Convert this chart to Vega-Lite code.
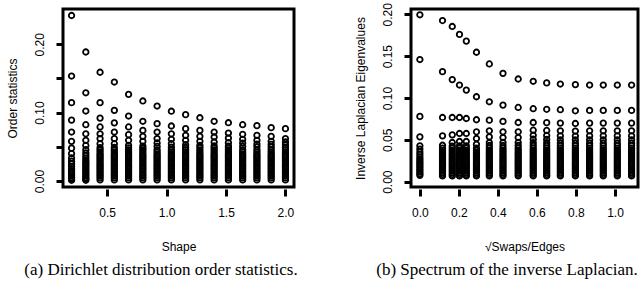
{
"$schema":"https://vega.github.io/schema/vega-lite/v6.json",
"padding":{"left":4,"top":1,"right":0,"bottom":0},
"spacing":6,
"config":{
"view":{"stroke":"#000000","strokeWidth":3},
"axis":{"domain":false,"grid":false,"ticks":true,"tickColor":"#000000","tickSize":7,"tickWidth":3,"labelFont":"Liberation Sans","labelFontSize":12,"labelColor":"black","titleFont":"Liberation Sans","titleFontSize":12,"titleFontWeight":"normal","titleColor":"black","labelPadding":10},
"axisY":{"labelAngle":270,"labelAlign":"center","labelBaseline":"bottom","titlePadding":14},
"axisX":{"offset":2,"titlePadding":23,"labelPadding":11},
"point":{"shape":"circle","filled":false,"stroke":"black","strokeWidth":1.8,"size":30,"opacity":1},
"text":{"font":"Liberation Serif","fontSize":17,"color":"black","align":"center","baseline":"middle"}
},
"datasets":{
"a":[
{"x":0.2,"y":0.242},{"x":0.2,"y":0.1535},{"x":0.2,"y":0.1145},{"x":0.2,"y":0.089},{"x":0.2,"y":0.0716},{"x":0.2,"y":0.058},{"x":0.2,"y":0.048},{"x":0.2,"y":0.04},{"x":0.2,"y":0.0336},{"x":0.2,"y":0.029},{"x":0.2,"y":0.025},{"x":0.2,"y":0.0215},{"x":0.2,"y":0.018},{"x":0.2,"y":0.015},{"x":0.2,"y":0.0125},{"x":0.2,"y":0.01},{"x":0.2,"y":0.0075},{"x":0.2,"y":0.005},{"x":0.2,"y":0.003},{"x":0.2,"y":0.001},
{"x":0.32,"y":0.1886},{"x":0.32,"y":0.129},{"x":0.32,"y":0.1023},{"x":0.32,"y":0.0823},{"x":0.32,"y":0.069},{"x":0.32,"y":0.0595},{"x":0.32,"y":0.052},{"x":0.32,"y":0.0458},{"x":0.32,"y":0.041},{"x":0.32,"y":0.037},{"x":0.32,"y":0.0335},{"x":0.32,"y":0.0305},{"x":0.32,"y":0.0275},{"x":0.32,"y":0.025},{"x":0.32,"y":0.0225},{"x":0.32,"y":0.02},{"x":0.32,"y":0.0175},{"x":0.32,"y":0.015},{"x":0.32,"y":0.0125},{"x":0.32,"y":0.01},{"x":0.32,"y":0.0075},{"x":0.32,"y":0.005},{"x":0.32,"y":0.003},{"x":0.32,"y":0.001},
{"x":0.44,"y":0.159},{"x":0.44,"y":0.1145},{"x":0.44,"y":0.092},{"x":0.44,"y":0.079},{"x":0.44,"y":0.069},{"x":0.44,"y":0.062},{"x":0.44,"y":0.0545},{"x":0.44,"y":0.0487},{"x":0.44,"y":0.0455},{"x":0.44,"y":0.0425},{"x":0.44,"y":0.0395},{"x":0.44,"y":0.037},{"x":0.44,"y":0.0345},{"x":0.44,"y":0.032},{"x":0.44,"y":0.0295},{"x":0.44,"y":0.027},{"x":0.44,"y":0.0245},{"x":0.44,"y":0.022},{"x":0.44,"y":0.0195},{"x":0.44,"y":0.017},{"x":0.44,"y":0.0145},{"x":0.44,"y":0.012},{"x":0.44,"y":0.0095},{"x":0.44,"y":0.007},{"x":0.44,"y":0.0045},{"x":0.44,"y":0.0015},
{"x":0.56,"y":0.1447},{"x":0.56,"y":0.1033},{"x":0.56,"y":0.085},{"x":0.56,"y":0.0716},{"x":0.56,"y":0.062},{"x":0.56,"y":0.0545},{"x":0.56,"y":0.049},{"x":0.56,"y":0.0455},{"x":0.56,"y":0.0425},{"x":0.56,"y":0.0395},{"x":0.56,"y":0.037},{"x":0.56,"y":0.0345},{"x":0.56,"y":0.032},{"x":0.56,"y":0.0295},{"x":0.56,"y":0.027},{"x":0.56,"y":0.0245},{"x":0.56,"y":0.022},{"x":0.56,"y":0.0195},{"x":0.56,"y":0.017},{"x":0.56,"y":0.0145},{"x":0.56,"y":0.012},{"x":0.56,"y":0.0095},{"x":0.56,"y":0.007},{"x":0.56,"y":0.0045},{"x":0.56,"y":0.0015},
{"x":0.68,"y":0.1267},{"x":0.68,"y":0.095},{"x":0.68,"y":0.079},{"x":0.68,"y":0.0677},{"x":0.68,"y":0.0595},{"x":0.68,"y":0.052},{"x":0.68,"y":0.0485},{"x":0.68,"y":0.0455},{"x":0.68,"y":0.0425},{"x":0.68,"y":0.0395},{"x":0.68,"y":0.037},{"x":0.68,"y":0.0345},{"x":0.68,"y":0.032},{"x":0.68,"y":0.0295},{"x":0.68,"y":0.027},{"x":0.68,"y":0.0245},{"x":0.68,"y":0.022},{"x":0.68,"y":0.0195},{"x":0.68,"y":0.017},{"x":0.68,"y":0.0145},{"x":0.68,"y":0.012},{"x":0.68,"y":0.0095},{"x":0.68,"y":0.007},{"x":0.68,"y":0.0045},{"x":0.68,"y":0.0015},
{"x":0.8,"y":0.117},{"x":0.8,"y":0.0873},{"x":0.8,"y":0.074},{"x":0.8,"y":0.0653},{"x":0.8,"y":0.058},{"x":0.8,"y":0.051},{"x":0.8,"y":0.048},{"x":0.8,"y":0.0455},{"x":0.8,"y":0.0425},{"x":0.8,"y":0.0395},{"x":0.8,"y":0.037},{"x":0.8,"y":0.0345},{"x":0.8,"y":0.032},{"x":0.8,"y":0.0295},{"x":0.8,"y":0.027},{"x":0.8,"y":0.0245},{"x":0.8,"y":0.022},{"x":0.8,"y":0.0195},{"x":0.8,"y":0.017},{"x":0.8,"y":0.0145},{"x":0.8,"y":0.012},{"x":0.8,"y":0.0095},{"x":0.8,"y":0.007},{"x":0.8,"y":0.0045},{"x":0.8,"y":0.0015},
{"x":0.92,"y":0.1096},{"x":0.92,"y":0.0838},{"x":0.92,"y":0.0716},{"x":0.92,"y":0.062},{"x":0.92,"y":0.0556},{"x":0.92,"y":0.0505},{"x":0.92,"y":0.0455},{"x":0.92,"y":0.0425},{"x":0.92,"y":0.0395},{"x":0.92,"y":0.037},{"x":0.92,"y":0.0345},{"x":0.92,"y":0.032},{"x":0.92,"y":0.0295},{"x":0.92,"y":0.027},{"x":0.92,"y":0.0245},{"x":0.92,"y":0.022},{"x":0.92,"y":0.0195},{"x":0.92,"y":0.017},{"x":0.92,"y":0.0145},{"x":0.92,"y":0.012},{"x":0.92,"y":0.0095},{"x":0.92,"y":0.007},{"x":0.92,"y":0.0045},{"x":0.92,"y":0.0015},
{"x":1.04,"y":0.102},{"x":1.04,"y":0.0804},{"x":1.04,"y":0.069},{"x":1.04,"y":0.061},{"x":1.04,"y":0.0545},{"x":1.04,"y":0.0495},{"x":1.04,"y":0.0455},{"x":1.04,"y":0.0425},{"x":1.04,"y":0.0395},{"x":1.04,"y":0.037},{"x":1.04,"y":0.0345},{"x":1.04,"y":0.032},{"x":1.04,"y":0.0295},{"x":1.04,"y":0.027},{"x":1.04,"y":0.0245},{"x":1.04,"y":0.022},{"x":1.04,"y":0.0195},{"x":1.04,"y":0.017},{"x":1.04,"y":0.0145},{"x":1.04,"y":0.012},{"x":1.04,"y":0.0095},{"x":1.04,"y":0.007},{"x":1.04,"y":0.0045},{"x":1.04,"y":0.0015},
{"x":1.16,"y":0.097},{"x":1.16,"y":0.0765},{"x":1.16,"y":0.0668},{"x":1.16,"y":0.0595},{"x":1.16,"y":0.053},{"x":1.16,"y":0.049},{"x":1.16,"y":0.0455},{"x":1.16,"y":0.0425},{"x":1.16,"y":0.0395},{"x":1.16,"y":0.037},{"x":1.16,"y":0.0345},{"x":1.16,"y":0.032},{"x":1.16,"y":0.0295},{"x":1.16,"y":0.027},{"x":1.16,"y":0.0245},{"x":1.16,"y":0.022},{"x":1.16,"y":0.0195},{"x":1.16,"y":0.017},{"x":1.16,"y":0.0145},{"x":1.16,"y":0.012},{"x":1.16,"y":0.0095},{"x":1.16,"y":0.007},{"x":1.16,"y":0.0045},{"x":1.16,"y":0.0015},
{"x":1.28,"y":0.0925},{"x":1.28,"y":0.074},{"x":1.28,"y":0.0653},{"x":1.28,"y":0.058},{"x":1.28,"y":0.052},{"x":1.28,"y":0.049},{"x":1.28,"y":0.0455},{"x":1.28,"y":0.0425},{"x":1.28,"y":0.0395},{"x":1.28,"y":0.037},{"x":1.28,"y":0.0345},{"x":1.28,"y":0.032},{"x":1.28,"y":0.0295},{"x":1.28,"y":0.027},{"x":1.28,"y":0.0245},{"x":1.28,"y":0.022},{"x":1.28,"y":0.0195},{"x":1.28,"y":0.017},{"x":1.28,"y":0.0145},{"x":1.28,"y":0.012},{"x":1.28,"y":0.0095},{"x":1.28,"y":0.007},{"x":1.28,"y":0.0045},{"x":1.28,"y":0.0015},
{"x":1.4,"y":0.0873},{"x":1.4,"y":0.0716},{"x":1.4,"y":0.0643},{"x":1.4,"y":0.057},{"x":1.4,"y":0.0515},{"x":1.4,"y":0.0485},{"x":1.4,"y":0.0455},{"x":1.4,"y":0.0425},{"x":1.4,"y":0.0395},{"x":1.4,"y":0.037},{"x":1.4,"y":0.0345},{"x":1.4,"y":0.032},{"x":1.4,"y":0.0295},{"x":1.4,"y":0.027},{"x":1.4,"y":0.0245},{"x":1.4,"y":0.022},{"x":1.4,"y":0.0195},{"x":1.4,"y":0.017},{"x":1.4,"y":0.0145},{"x":1.4,"y":0.012},{"x":1.4,"y":0.0095},{"x":1.4,"y":0.007},{"x":1.4,"y":0.0045},{"x":1.4,"y":0.0015},
{"x":1.52,"y":0.0852},{"x":1.52,"y":0.07},{"x":1.52,"y":0.0629},{"x":1.52,"y":0.056},{"x":1.52,"y":0.051},{"x":1.52,"y":0.0485},{"x":1.52,"y":0.0455},{"x":1.52,"y":0.0425},{"x":1.52,"y":0.0395},{"x":1.52,"y":0.037},{"x":1.52,"y":0.0345},{"x":1.52,"y":0.032},{"x":1.52,"y":0.0295},{"x":1.52,"y":0.027},{"x":1.52,"y":0.0245},{"x":1.52,"y":0.022},{"x":1.52,"y":0.0195},{"x":1.52,"y":0.017},{"x":1.52,"y":0.0145},{"x":1.52,"y":0.012},{"x":1.52,"y":0.0095},{"x":1.52,"y":0.007},{"x":1.52,"y":0.0045},{"x":1.52,"y":0.0015},
{"x":1.64,"y":0.0823},{"x":1.64,"y":0.0683},{"x":1.64,"y":0.061},{"x":1.64,"y":0.0555},{"x":1.64,"y":0.0505},{"x":1.64,"y":0.0455},{"x":1.64,"y":0.0425},{"x":1.64,"y":0.0395},{"x":1.64,"y":0.037},{"x":1.64,"y":0.0345},{"x":1.64,"y":0.032},{"x":1.64,"y":0.0295},{"x":1.64,"y":0.027},{"x":1.64,"y":0.0245},{"x":1.64,"y":0.022},{"x":1.64,"y":0.0195},{"x":1.64,"y":0.017},{"x":1.64,"y":0.0145},{"x":1.64,"y":0.012},{"x":1.64,"y":0.0095},{"x":1.64,"y":0.007},{"x":1.64,"y":0.0045},{"x":1.64,"y":0.0015},
{"x":1.76,"y":0.0809},{"x":1.76,"y":0.0668},{"x":1.76,"y":0.0595},{"x":1.76,"y":0.054},{"x":1.76,"y":0.05},{"x":1.76,"y":0.0455},{"x":1.76,"y":0.0425},{"x":1.76,"y":0.0395},{"x":1.76,"y":0.037},{"x":1.76,"y":0.0345},{"x":1.76,"y":0.032},{"x":1.76,"y":0.0295},{"x":1.76,"y":0.027},{"x":1.76,"y":0.0245},{"x":1.76,"y":0.022},{"x":1.76,"y":0.0195},{"x":1.76,"y":0.017},{"x":1.76,"y":0.0145},{"x":1.76,"y":0.012},{"x":1.76,"y":0.0095},{"x":1.76,"y":0.007},{"x":1.76,"y":0.0045},{"x":1.76,"y":0.0015},
{"x":1.88,"y":0.078},{"x":1.88,"y":0.0653},{"x":1.88,"y":0.058},{"x":1.88,"y":0.0535},{"x":1.88,"y":0.0495},{"x":1.88,"y":0.0455},{"x":1.88,"y":0.0425},{"x":1.88,"y":0.0395},{"x":1.88,"y":0.037},{"x":1.88,"y":0.0345},{"x":1.88,"y":0.032},{"x":1.88,"y":0.0295},{"x":1.88,"y":0.027},{"x":1.88,"y":0.0245},{"x":1.88,"y":0.022},{"x":1.88,"y":0.0195},{"x":1.88,"y":0.017},{"x":1.88,"y":0.0145},{"x":1.88,"y":0.012},{"x":1.88,"y":0.0095},{"x":1.88,"y":0.007},{"x":1.88,"y":0.0045},{"x":1.88,"y":0.0015},
{"x":2.0,"y":0.0765},{"x":2.0,"y":0.062},{"x":2.0,"y":0.057},{"x":2.0,"y":0.053},{"x":2.0,"y":0.049},{"x":2.0,"y":0.0455},{"x":2.0,"y":0.0425},{"x":2.0,"y":0.0395},{"x":2.0,"y":0.037},{"x":2.0,"y":0.0345},{"x":2.0,"y":0.032},{"x":2.0,"y":0.0295},{"x":2.0,"y":0.027},{"x":2.0,"y":0.0245},{"x":2.0,"y":0.022},{"x":2.0,"y":0.0195},{"x":2.0,"y":0.017},{"x":2.0,"y":0.0145},{"x":2.0,"y":0.012},{"x":2.0,"y":0.0095},{"x":2.0,"y":0.007},{"x":2.0,"y":0.0045},{"x":2.0,"y":0.0015}
],
"b":[
{"x":0,"y":0.1995},{"x":0,"y":0.146},{"x":0,"y":0.078},{"x":0,"y":0.0536},{"x":0,"y":0.0428},{"x":0,"y":0.039},{"x":0,"y":0.0355},{"x":0,"y":0.0325},{"x":0,"y":0.0295},{"x":0,"y":0.027},{"x":0,"y":0.0248},{"x":0,"y":0.0226},{"x":0,"y":0.0204},{"x":0,"y":0.0182},{"x":0,"y":0.016},{"x":0,"y":0.0138},{"x":0,"y":0.0116},{"x":0,"y":0.0094},{"x":0,"y":0.0075},
{"x":0.116,"y":0.1926},{"x":0.116,"y":0.1315},{"x":0.116,"y":0.0767},{"x":0.116,"y":0.0548},{"x":0.116,"y":0.0435},{"x":0.116,"y":0.04},{"x":0.116,"y":0.0375},{"x":0.116,"y":0.035},{"x":0.116,"y":0.0328},{"x":0.116,"y":0.0306},{"x":0.116,"y":0.0284},{"x":0.116,"y":0.0262},{"x":0.116,"y":0.024},{"x":0.116,"y":0.0218},{"x":0.116,"y":0.0196},{"x":0.116,"y":0.0174},{"x":0.116,"y":0.0152},{"x":0.116,"y":0.013},{"x":0.116,"y":0.0108},{"x":0.116,"y":0.0086},{"x":0.116,"y":0.0068},
{"x":0.166,"y":0.1855},{"x":0.166,"y":0.122},{"x":0.166,"y":0.0767},{"x":0.166,"y":0.056},{"x":0.166,"y":0.0468},{"x":0.166,"y":0.0425},{"x":0.166,"y":0.04},{"x":0.166,"y":0.0375},{"x":0.166,"y":0.035},{"x":0.166,"y":0.0328},{"x":0.166,"y":0.0306},{"x":0.166,"y":0.0284},{"x":0.166,"y":0.0262},{"x":0.166,"y":0.024},{"x":0.166,"y":0.0218},{"x":0.166,"y":0.0196},{"x":0.166,"y":0.0174},{"x":0.166,"y":0.0152},{"x":0.166,"y":0.013},{"x":0.166,"y":0.0108},{"x":0.166,"y":0.0086},{"x":0.166,"y":0.0068},
{"x":0.203,"y":0.176},{"x":0.203,"y":0.1155},{"x":0.203,"y":0.0767},{"x":0.203,"y":0.0576},{"x":0.203,"y":0.048},{"x":0.203,"y":0.0428},{"x":0.203,"y":0.04},{"x":0.203,"y":0.0375},{"x":0.203,"y":0.035},{"x":0.203,"y":0.0328},{"x":0.203,"y":0.0306},{"x":0.203,"y":0.0284},{"x":0.203,"y":0.0262},{"x":0.203,"y":0.024},{"x":0.203,"y":0.0218},{"x":0.203,"y":0.0196},{"x":0.203,"y":0.0174},{"x":0.203,"y":0.0152},{"x":0.203,"y":0.013},{"x":0.203,"y":0.0108},{"x":0.203,"y":0.0086},{"x":0.203,"y":0.0068},
{"x":0.238,"y":0.168},{"x":0.238,"y":0.1095},{"x":0.238,"y":0.0755},{"x":0.238,"y":0.0576},{"x":0.238,"y":0.048},{"x":0.238,"y":0.0428},{"x":0.238,"y":0.04},{"x":0.238,"y":0.0375},{"x":0.238,"y":0.035},{"x":0.238,"y":0.0328},{"x":0.238,"y":0.0306},{"x":0.238,"y":0.0284},{"x":0.238,"y":0.0262},{"x":0.238,"y":0.024},{"x":0.238,"y":0.0218},{"x":0.238,"y":0.0196},{"x":0.238,"y":0.0174},{"x":0.238,"y":0.0152},{"x":0.238,"y":0.013},{"x":0.238,"y":0.0108},{"x":0.238,"y":0.0086},{"x":0.238,"y":0.0068},
{"x":0.29,"y":0.1547},{"x":0.29,"y":0.1015},{"x":0.29,"y":0.074},{"x":0.29,"y":0.0596},{"x":0.29,"y":0.0516},{"x":0.29,"y":0.0447},{"x":0.29,"y":0.04},{"x":0.29,"y":0.0375},{"x":0.29,"y":0.035},{"x":0.29,"y":0.0328},{"x":0.29,"y":0.0306},{"x":0.29,"y":0.0284},{"x":0.29,"y":0.0262},{"x":0.29,"y":0.024},{"x":0.29,"y":0.0218},{"x":0.29,"y":0.0196},{"x":0.29,"y":0.0174},{"x":0.29,"y":0.0152},{"x":0.29,"y":0.013},{"x":0.29,"y":0.0108},{"x":0.29,"y":0.0086},{"x":0.29,"y":0.0068},
{"x":0.356,"y":0.1407},{"x":0.356,"y":0.0955},{"x":0.356,"y":0.0735},{"x":0.356,"y":0.0608},{"x":0.356,"y":0.0536},{"x":0.356,"y":0.0468},{"x":0.356,"y":0.0432},{"x":0.356,"y":0.04},{"x":0.356,"y":0.0375},{"x":0.356,"y":0.035},{"x":0.356,"y":0.0328},{"x":0.356,"y":0.0306},{"x":0.356,"y":0.0284},{"x":0.356,"y":0.0262},{"x":0.356,"y":0.024},{"x":0.356,"y":0.0218},{"x":0.356,"y":0.0196},{"x":0.356,"y":0.0174},{"x":0.356,"y":0.0152},{"x":0.356,"y":0.013},{"x":0.356,"y":0.0108},{"x":0.356,"y":0.0086},{"x":0.356,"y":0.0068},
{"x":0.426,"y":0.1295},{"x":0.426,"y":0.0915},{"x":0.426,"y":0.072},{"x":0.426,"y":0.0596},{"x":0.426,"y":0.0528},{"x":0.426,"y":0.0468},{"x":0.426,"y":0.0432},{"x":0.426,"y":0.04},{"x":0.426,"y":0.0375},{"x":0.426,"y":0.035},{"x":0.426,"y":0.0328},{"x":0.426,"y":0.0306},{"x":0.426,"y":0.0284},{"x":0.426,"y":0.0262},{"x":0.426,"y":0.024},{"x":0.426,"y":0.0218},{"x":0.426,"y":0.0196},{"x":0.426,"y":0.0174},{"x":0.426,"y":0.0152},{"x":0.426,"y":0.013},{"x":0.426,"y":0.0108},{"x":0.426,"y":0.0086},{"x":0.426,"y":0.0068},
{"x":0.504,"y":0.1227},{"x":0.504,"y":0.0887},{"x":0.504,"y":0.0707},{"x":0.504,"y":0.0596},{"x":0.504,"y":0.0528},{"x":0.504,"y":0.0468},{"x":0.504,"y":0.0432},{"x":0.504,"y":0.04},{"x":0.504,"y":0.0375},{"x":0.504,"y":0.035},{"x":0.504,"y":0.0328},{"x":0.504,"y":0.0306},{"x":0.504,"y":0.0284},{"x":0.504,"y":0.0262},{"x":0.504,"y":0.024},{"x":0.504,"y":0.0218},{"x":0.504,"y":0.0196},{"x":0.504,"y":0.0174},{"x":0.504,"y":0.0152},{"x":0.504,"y":0.013},{"x":0.504,"y":0.0108},{"x":0.504,"y":0.0086},{"x":0.504,"y":0.0068},
{"x":0.581,"y":0.12},{"x":0.581,"y":0.0872},{"x":0.581,"y":0.0707},{"x":0.581,"y":0.0615},{"x":0.581,"y":0.0555},{"x":0.581,"y":0.0507},{"x":0.581,"y":0.0465},{"x":0.581,"y":0.0432},{"x":0.581,"y":0.04},{"x":0.581,"y":0.0375},{"x":0.581,"y":0.035},{"x":0.581,"y":0.0328},{"x":0.581,"y":0.0306},{"x":0.581,"y":0.0284},{"x":0.581,"y":0.0262},{"x":0.581,"y":0.024},{"x":0.581,"y":0.0218},{"x":0.581,"y":0.0196},{"x":0.581,"y":0.0174},{"x":0.581,"y":0.0152},{"x":0.581,"y":0.013},{"x":0.581,"y":0.0108},{"x":0.581,"y":0.0086},{"x":0.581,"y":0.0068},
{"x":0.65,"y":0.118},{"x":0.65,"y":0.0865},{"x":0.65,"y":0.0705},{"x":0.65,"y":0.0612},{"x":0.65,"y":0.0552},{"x":0.65,"y":0.0505},{"x":0.65,"y":0.0465},{"x":0.65,"y":0.0432},{"x":0.65,"y":0.04},{"x":0.65,"y":0.0375},{"x":0.65,"y":0.035},{"x":0.65,"y":0.0328},{"x":0.65,"y":0.0306},{"x":0.65,"y":0.0284},{"x":0.65,"y":0.0262},{"x":0.65,"y":0.024},{"x":0.65,"y":0.0218},{"x":0.65,"y":0.0196},{"x":0.65,"y":0.0174},{"x":0.65,"y":0.0152},{"x":0.65,"y":0.013},{"x":0.65,"y":0.0108},{"x":0.65,"y":0.0086},{"x":0.65,"y":0.0068},
{"x":0.72,"y":0.1167},{"x":0.72,"y":0.086},{"x":0.72,"y":0.07},{"x":0.72,"y":0.0608},{"x":0.72,"y":0.0548},{"x":0.72,"y":0.05},{"x":0.72,"y":0.0462},{"x":0.72,"y":0.043},{"x":0.72,"y":0.04},{"x":0.72,"y":0.0375},{"x":0.72,"y":0.035},{"x":0.72,"y":0.0328},{"x":0.72,"y":0.0306},{"x":0.72,"y":0.0284},{"x":0.72,"y":0.0262},{"x":0.72,"y":0.024},{"x":0.72,"y":0.0218},{"x":0.72,"y":0.0196},{"x":0.72,"y":0.0174},{"x":0.72,"y":0.0152},{"x":0.72,"y":0.013},{"x":0.72,"y":0.0108},{"x":0.72,"y":0.0086},{"x":0.72,"y":0.0068},
{"x":0.797,"y":0.116},{"x":0.797,"y":0.0847},{"x":0.797,"y":0.0695},{"x":0.797,"y":0.0605},{"x":0.797,"y":0.0545},{"x":0.797,"y":0.05},{"x":0.797,"y":0.046},{"x":0.797,"y":0.043},{"x":0.797,"y":0.04},{"x":0.797,"y":0.0375},{"x":0.797,"y":0.035},{"x":0.797,"y":0.0328},{"x":0.797,"y":0.0306},{"x":0.797,"y":0.0284},{"x":0.797,"y":0.0262},{"x":0.797,"y":0.024},{"x":0.797,"y":0.0218},{"x":0.797,"y":0.0196},{"x":0.797,"y":0.0174},{"x":0.797,"y":0.0152},{"x":0.797,"y":0.013},{"x":0.797,"y":0.0108},{"x":0.797,"y":0.0086},{"x":0.797,"y":0.0068},
{"x":0.87,"y":0.1155},{"x":0.87,"y":0.0852},{"x":0.87,"y":0.07},{"x":0.87,"y":0.0608},{"x":0.87,"y":0.0548},{"x":0.87,"y":0.05},{"x":0.87,"y":0.046},{"x":0.87,"y":0.043},{"x":0.87,"y":0.04},{"x":0.87,"y":0.0375},{"x":0.87,"y":0.035},{"x":0.87,"y":0.0328},{"x":0.87,"y":0.0306},{"x":0.87,"y":0.0284},{"x":0.87,"y":0.0262},{"x":0.87,"y":0.024},{"x":0.87,"y":0.0218},{"x":0.87,"y":0.0196},{"x":0.87,"y":0.0174},{"x":0.87,"y":0.0152},{"x":0.87,"y":0.013},{"x":0.87,"y":0.0108},{"x":0.87,"y":0.0086},{"x":0.87,"y":0.0068},
{"x":0.94,"y":0.1155},{"x":0.94,"y":0.0852},{"x":0.94,"y":0.07},{"x":0.94,"y":0.0608},{"x":0.94,"y":0.0548},{"x":0.94,"y":0.05},{"x":0.94,"y":0.046},{"x":0.94,"y":0.043},{"x":0.94,"y":0.04},{"x":0.94,"y":0.0375},{"x":0.94,"y":0.035},{"x":0.94,"y":0.0328},{"x":0.94,"y":0.0306},{"x":0.94,"y":0.0284},{"x":0.94,"y":0.0262},{"x":0.94,"y":0.024},{"x":0.94,"y":0.0218},{"x":0.94,"y":0.0196},{"x":0.94,"y":0.0174},{"x":0.94,"y":0.0152},{"x":0.94,"y":0.013},{"x":0.94,"y":0.0108},{"x":0.94,"y":0.0086},{"x":0.94,"y":0.0068},
{"x":1.012,"y":0.1155},{"x":1.012,"y":0.0852},{"x":1.012,"y":0.07},{"x":1.012,"y":0.0608},{"x":1.012,"y":0.0548},{"x":1.012,"y":0.05},{"x":1.012,"y":0.046},{"x":1.012,"y":0.043},{"x":1.012,"y":0.04},{"x":1.012,"y":0.0375},{"x":1.012,"y":0.035},{"x":1.012,"y":0.0328},{"x":1.012,"y":0.0306},{"x":1.012,"y":0.0284},{"x":1.012,"y":0.0262},{"x":1.012,"y":0.024},{"x":1.012,"y":0.0218},{"x":1.012,"y":0.0196},{"x":1.012,"y":0.0174},{"x":1.012,"y":0.0152},{"x":1.012,"y":0.013},{"x":1.012,"y":0.0108},{"x":1.012,"y":0.0086},{"x":1.012,"y":0.0068},
{"x":1.085,"y":0.1155},{"x":1.085,"y":0.0852},{"x":1.085,"y":0.07},{"x":1.085,"y":0.0608},{"x":1.085,"y":0.0548},{"x":1.085,"y":0.05},{"x":1.085,"y":0.046},{"x":1.085,"y":0.043},{"x":1.085,"y":0.04},{"x":1.085,"y":0.0375},{"x":1.085,"y":0.035},{"x":1.085,"y":0.0328},{"x":1.085,"y":0.0306},{"x":1.085,"y":0.0284},{"x":1.085,"y":0.0262},{"x":1.085,"y":0.024},{"x":1.085,"y":0.0218},{"x":1.085,"y":0.0196},{"x":1.085,"y":0.0174},{"x":1.085,"y":0.0152},{"x":1.085,"y":0.013},{"x":1.085,"y":0.0108},{"x":1.085,"y":0.0086},{"x":1.085,"y":0.0068}
],
"caps":[
{"panel":"a","caption":"(a)  Dirichlet distribution order statistics."},
{"panel":"b","caption":"(b)  Spectrum of the inverse Laplacian."}
]
},
"vconcat":[
{
"spacing":56,
"hconcat":[
{
"width":231,"height":178,
"data":{"name":"a"},
"mark":{"type":"point"},
"encoding":{
"x":{"field":"x","type":"quantitative","scale":{"domain":[0.128,2.072],"nice":false,"zero":false},"axis":{"values":[0.5,1,1.5,2],"format":".1f","title":"Shape"}},
"y":{"field":"y","type":"quantitative","scale":{"domain":[-0.0088,0.2515],"nice":false,"zero":false},"axis":{"values":[0,0.05,0.1,0.15,0.2],"format":".2f","labelExpr":"abs(datum.value-0.05)<0.001 || abs(datum.value-0.15)<0.001 ? '' : datum.label","title":"Order statistics"}}
}
},
{
"width":227,"height":178,
"data":{"name":"b"},
"mark":{"type":"point"},
"encoding":{
"x":{"field":"x","type":"quantitative","scale":{"domain":[-0.0455,1.118],"nice":false,"zero":false},"axis":{"values":[0,0.2,0.4,0.6,0.8,1.0],"format":".1f","title":"√Swaps/Edges"}},
"y":{"field":"y","type":"quantitative","scale":{"domain":[-0.0064,0.2064],"nice":false,"zero":false},"axis":{"values":[0,0.05,0.1,0.15,0.2],"format":".2f","title":"Inverse Laplacian Eigenvalues"}}
}
}
]
},
{
"spacing":128,
"bounds":"flush",
"hconcat":[
{
"width":196,"height":20,
"view":{"stroke":null},
"data":{"name":"caps"},
"transform":[{"filter":"datum.panel == 'a'"}],
"mark":{"type":"text"},
"encoding":{"text":{"field":"caption","type":"nominal"}}
},
{
"width":240,"height":20,
"view":{"stroke":null},
"data":{"name":"caps"},
"transform":[{"filter":"datum.panel == 'b'"}],
"mark":{"type":"text"},
"encoding":{"text":{"field":"caption","type":"nominal"}}
}
]
}
]
}
